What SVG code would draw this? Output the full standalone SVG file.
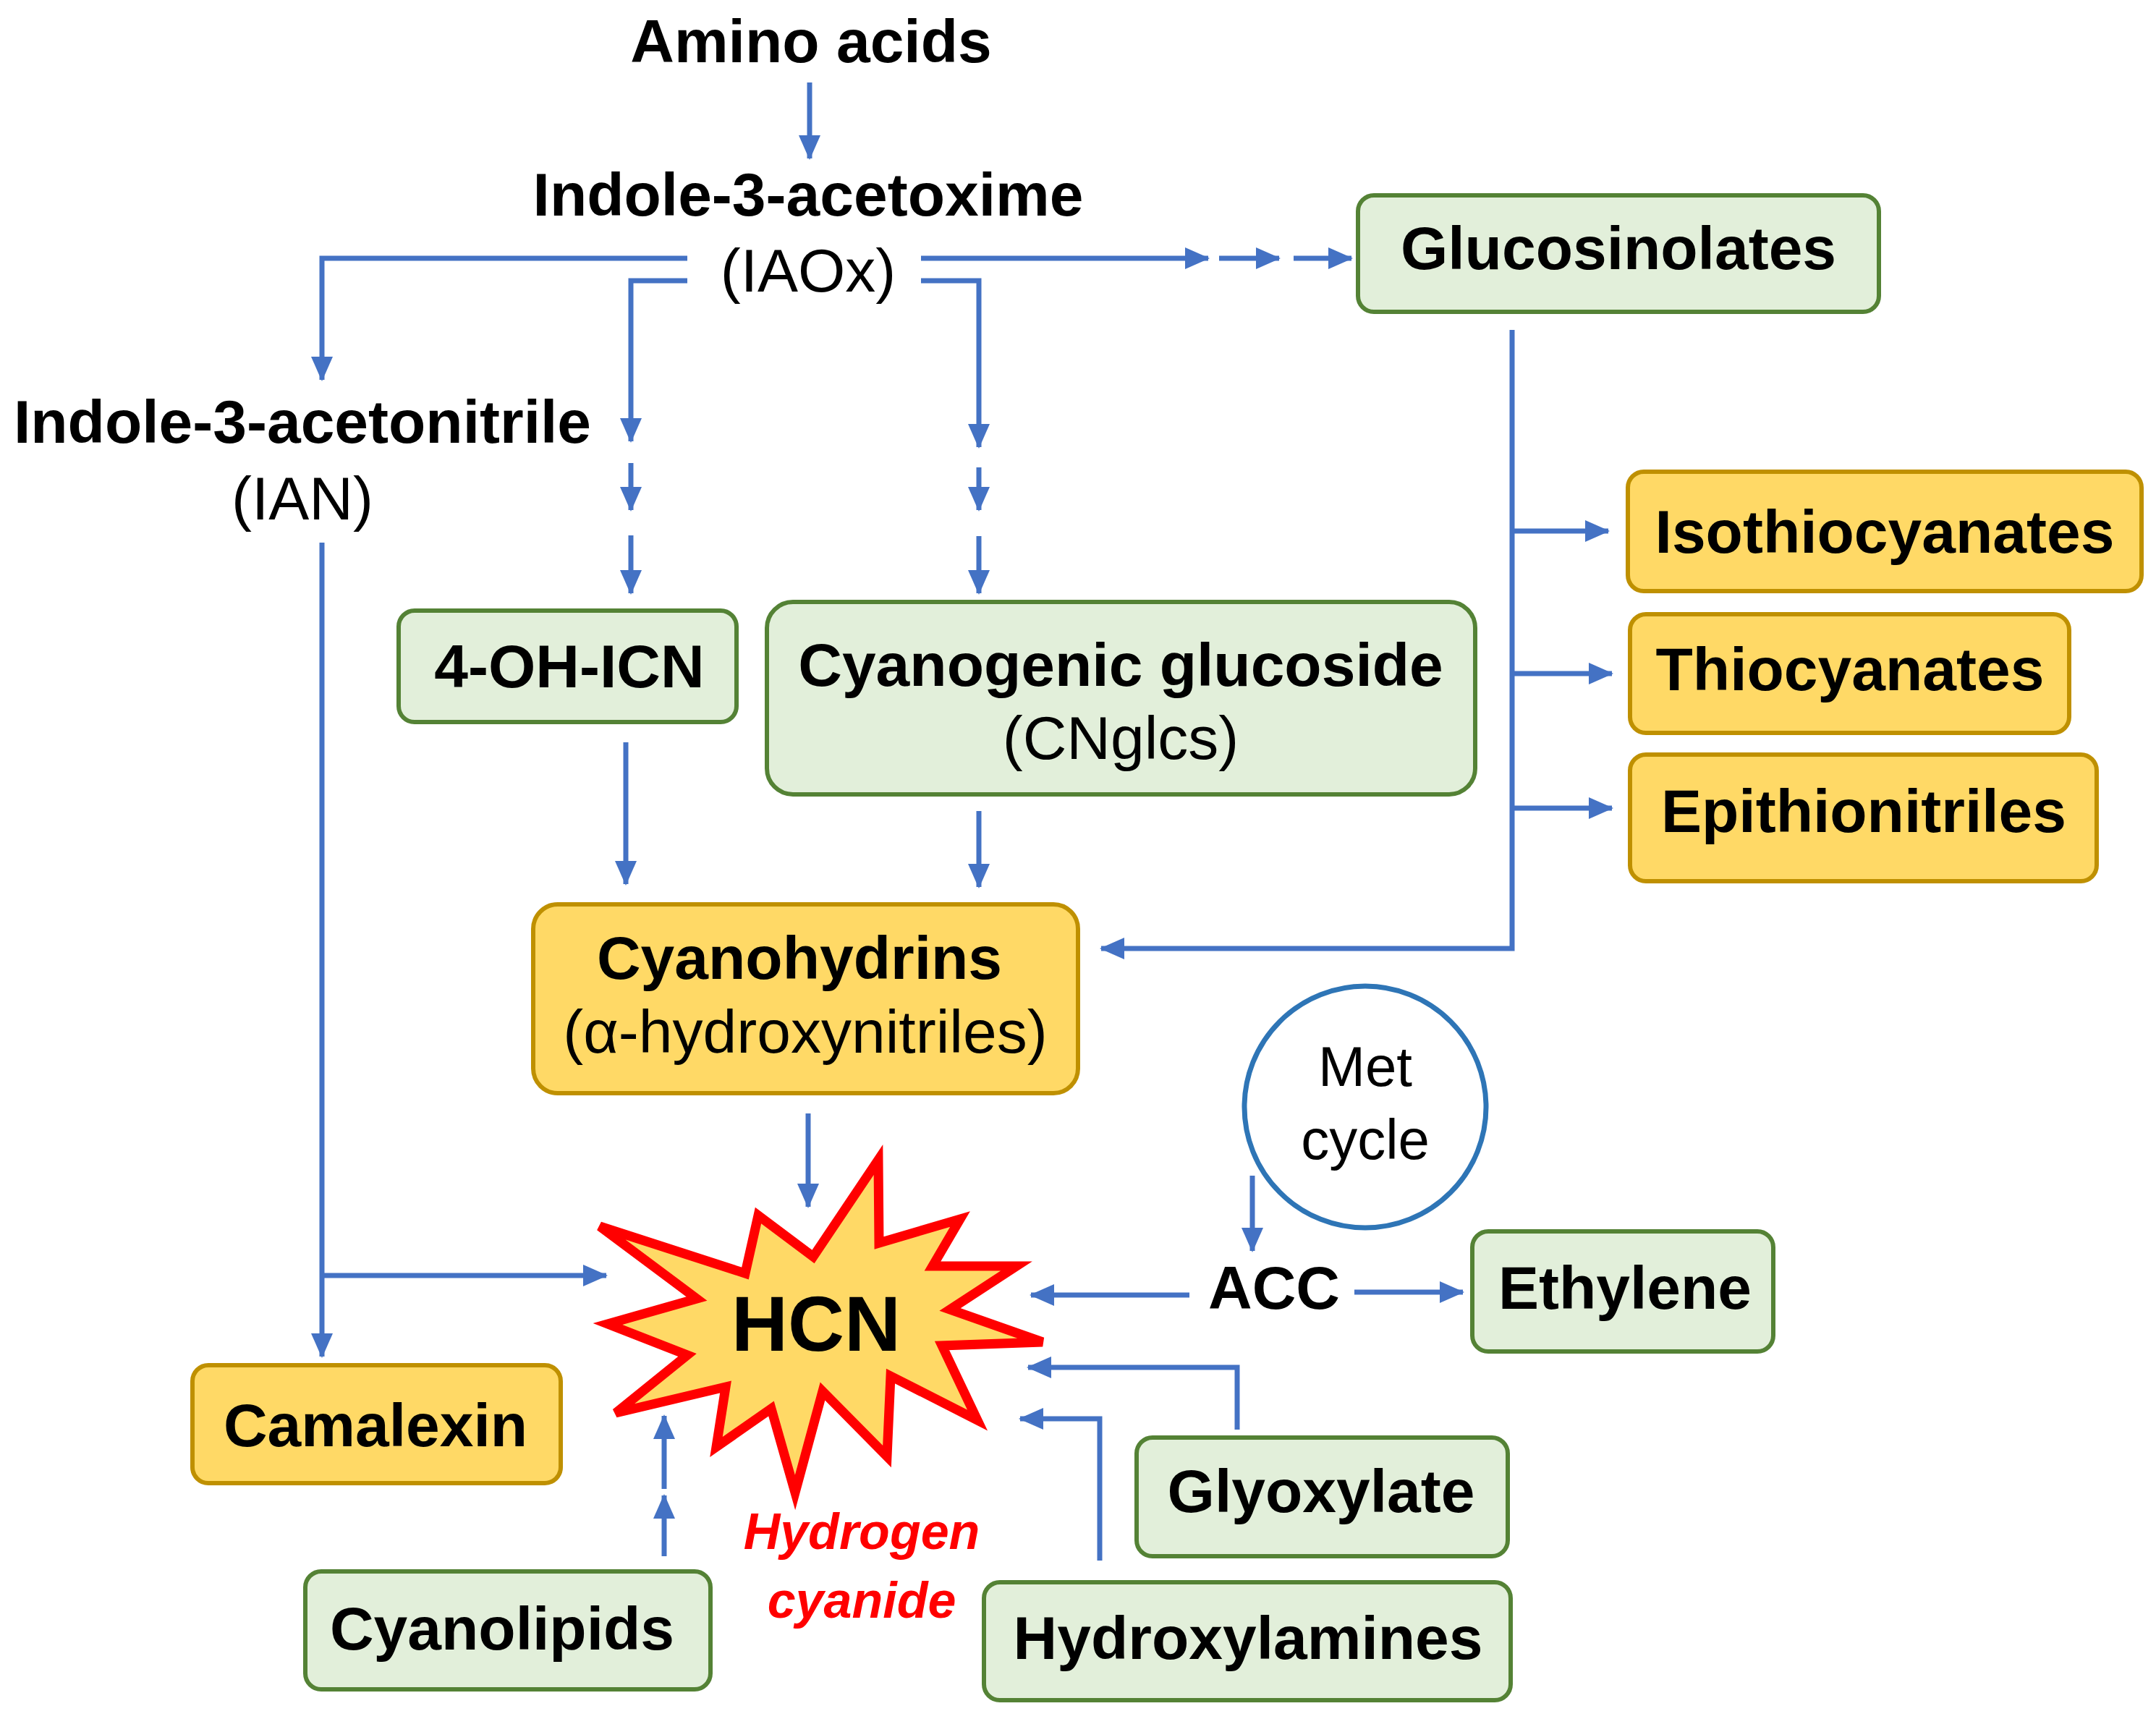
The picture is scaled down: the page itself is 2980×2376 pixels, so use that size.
<svg xmlns="http://www.w3.org/2000/svg" width="2980" height="2376" viewBox="0 0 2980 2376">
<style>
text{font-family:"Liberation Sans",Arial,sans-serif;text-anchor:middle;fill:#000}
.b{font-weight:bold;font-size:84px}
.r{font-size:84px}
.g{fill:#e2efda;stroke:#548235;stroke-width:6}
.o{fill:#ffd966;stroke:#bf9000;stroke-width:6}
.c{fill:none;stroke:#4472c4;stroke-width:7}
.a{marker-end:url(#ah)}
</style>
<defs>
<marker id="ah" markerUnits="userSpaceOnUse" markerWidth="36" markerHeight="30" refX="32" refY="15" orient="auto">
<path d="M0,0 L34,15 L0,30 Z" fill="#4472c4"/>
</marker>
</defs>
<rect width="2980" height="2376" fill="#fff"/>
<g id="connectors">
<path class="c a" d="M1119,114 V219"/>
<path class="c a" d="M950,357 H445 V525"/>
<path class="c a" d="M950,388 H872 V610"/>
<path class="c a" d="M872,640 V705"/>
<path class="c a" d="M872,740 V820"/>
<path class="c a" d="M1273,357 H1670"/>
<path class="c a" d="M1685,357 H1768"/>
<path class="c a" d="M1788,357 H1868"/>
<path class="c a" d="M1273,388 H1353 V618"/>
<path class="c a" d="M1353,646 V705"/>
<path class="c a" d="M1353,741 V820"/>
<path class="c a" d="M2090,456 V1311 H1522"/>
<path class="c a" d="M2090,734 H2223"/>
<path class="c a" d="M2090,931 H2228"/>
<path class="c a" d="M2090,1117 H2228"/>
<path class="c a" d="M445,750 V1875"/>
<path class="c a" d="M445,1763 H838"/>
<path class="c a" d="M865,1026 V1222"/>
<path class="c a" d="M1353,1121 V1226"/>
<path class="c a" d="M1117,1539 V1668"/>
<path class="c a" d="M1731,1625 V1729"/>
<path class="c a" d="M1644,1790 H1425"/>
<path class="c a" d="M1872,1786 H2022"/>
<path class="c a" d="M1710,1976 V1890 H1421"/>
<path class="c a" d="M1520,2157 V1961 H1410"/>
<path class="c a" d="M918,2151 V2067"/>
<path class="c a" d="M918,2058 V1957"/>
</g>
<g id="amino"><text class="b" x="1121" y="86">Amino acids</text></g>
<g id="iaox"><text class="b" x="1117" y="298">Indole-3-acetoxime</text><text class="r" x="1117" y="403">(IAOx)</text></g>
<g id="ian"><text class="b" x="418" y="612">Indole-3-acetonitrile</text><text class="r" x="418" y="718">(IAN)</text></g>
<g id="glucosinolates"><rect class="g" x="1877" y="270" width="720" height="161" rx="22"/><text class="b" x="2237" y="372">Glucosinolates</text></g>
<g id="isothiocyanates"><rect class="o" x="2250" y="652" width="710" height="165" rx="22"/><text class="b" x="2605" y="764">Isothiocyanates</text></g>
<g id="thiocyanates"><rect class="o" x="2253" y="849" width="607" height="164" rx="22"/><text class="b" x="2557" y="954">Thiocyanates</text></g>
<g id="epithionitriles"><rect class="o" x="2253" y="1043" width="645" height="175" rx="22"/><text class="b" x="2576" y="1150">Epithionitriles</text></g>
<g id="ohicn"><rect class="g" x="551" y="844" width="467" height="154" rx="22"/><text class="b" x="787" y="950">4-OH-ICN</text></g>
<g id="cnglcs"><rect class="g" x="1060" y="832" width="979" height="266" rx="36"/><text class="b" x="1549" y="948">Cyanogenic glucoside</text><text class="r" x="1549" y="1049">(CNglcs)</text></g>
<g id="cyanohydrins"><rect class="o" x="737" y="1250" width="753" height="261" rx="34"/><text class="b" x="1105" y="1353">Cyanohydrins</text><text class="r" x="1113" y="1455">(α-hydroxynitriles)</text></g>
<g id="hcn">
<polygon points="1214,1603 1215,1718 1327,1685 1289,1750 1405,1750 1313,1810 1441,1855 1302,1860 1351,1963 1231,1902 1226,2013 1137,1923 1099,2063 1066,1947 990,2000 1003,1917 851,1953 950,1873 840,1830 963,1795 829,1695 1030,1760 1048,1680 1124,1737" fill="#ffd966" stroke="#ff0000" stroke-width="13" stroke-linejoin="miter"/>
<text x="1128" y="1867" style="font-weight:bold;font-size:108px">HCN</text>
<text x="1191" y="2141" style="font-weight:bold;font-style:italic;font-size:70px;fill:#ff0000">Hydrogen</text>
<text x="1191" y="2236" style="font-weight:bold;font-style:italic;font-size:70px;fill:#ff0000">cyanide</text>
</g>
<g id="metcycle"><circle cx="1887" cy="1530" r="167" fill="#fff" stroke="#2e75b6" stroke-width="7"/><text class="r" x="1887" y="1501" style="font-size:78px">Met</text><text class="r" x="1887" y="1602" style="font-size:78px">cycle</text></g>
<g id="acc"><text class="b" x="1761" y="1809">ACC</text></g>
<g id="ethylene"><rect class="g" x="2035" y="1702" width="416" height="166" rx="22"/><text class="b" x="2246" y="1809">Ethylene</text></g>
<g id="glyoxylate"><rect class="g" x="1571" y="1987" width="513" height="164" rx="22"/><text class="b" x="1826" y="2090">Glyoxylate</text></g>
<g id="hydroxylamines"><rect class="g" x="1360" y="2187" width="728" height="163" rx="22"/><text class="b" x="1725" y="2293">Hydroxylamines</text></g>
<g id="camalexin"><rect class="o" x="266" y="1887" width="509" height="163" rx="22"/><text class="b" x="519" y="1999">Camalexin</text></g>
<g id="cyanolipids"><rect class="g" x="422" y="2172" width="560" height="163" rx="22"/><text class="b" x="694" y="2280">Cyanolipids</text></g>
</svg>
